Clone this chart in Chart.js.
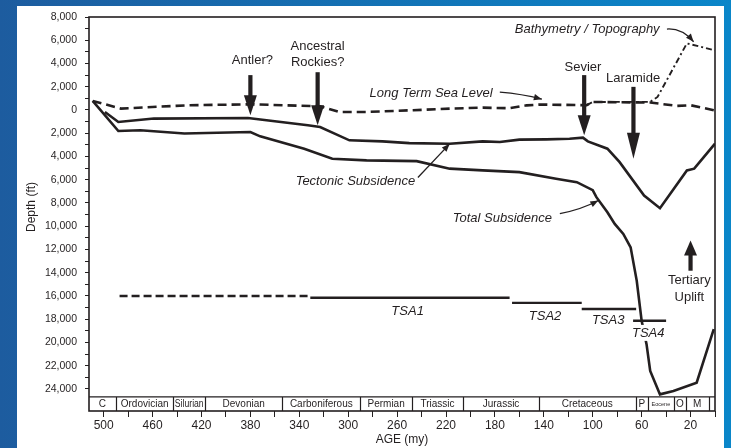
<!DOCTYPE html>
<html>
<head>
<meta charset="utf-8">
<script src="https://cdn.jsdelivr.net/npm/chart.js@4/dist/chart.umd.min.js"></script>
<style>
  html, body { margin: 0; padding: 0; background: #1a62a6; }
  canvas { display: block; }
</style>
</head>
<body>
<canvas id="chart" width="731" height="448"></canvas>
<script>
// Burial history: age in millions of years (my), depth in feet (negative = above sea level)
const seaAge   = [509, 486, 432, 380, 323, 307, 285, 247, 217, 190, 168, 154, 143, 105, 100, 53, 31, 20, 0];
const seaDepth = [-780, -120, -400, -490, -320, 170, 170, 20, -120, -200, -150, -400, -470, -410, -690, -640, -350, -410, 40];

const bathAge   = [105, 100, 53, 47, 23, 0];
const bathDepth = [-410, -690, -700, -1120, -5730, -5130];

const tecAge   = [499, 488, 459, 382, 333, 323, 299, 272, 250, 217, 190, 176, 160, 138, 119, 108, 104, 88, 78, 58, 45, 23, 17, 0];
const tecDepth = [170, 1030, 740, 690, 1320, 1470, 2610, 2700, 2850, 2900, 2700, 2760, 2550, 2530, 2470, 2380, 2700, 3330, 4490, 7360, 8450, 5200, 5050, 2900];

const totAge   = [509, 488, 470, 434, 380, 372, 336, 313, 285, 244, 217, 190, 160, 130, 113, 100, 97, 88, 82, 75, 69, 64, 60, 56, 53, 45, 34, 15, 1];
const totDepth = [-780, 1810, 1750, 2030, 1900, 2270, 3330, 4190, 4340, 4400, 5050, 5200, 5350, 5920, 6210, 6900, 7500, 8800, 9800, 10660, 11820, 14700, 18140, 20150, 22460, 24470, 24180, 23470, 18860];

// Tectono-stratigraphic assemblages (first segment is the undifferentiated dashed one)
const tsaNames = ['', 'TSA1', 'TSA2', 'TSA3', 'TSA4'];
const tsaOld   = [487, 331, 166, 109, 67];
const tsaYoung = [331, 168, 109, 64.5, 40];
const tsaDepth = [16000, 16150, 16600, 17130, 18140];

// Geologic periods
const periodNames  = ['C', 'Ordovician', 'Silurian', 'Devonian', 'Carboniferous', 'Permian', 'Triassic', 'Jurassic', 'Cretaceous', 'P', 'Eocene', 'O', 'M', ''];
const periodBounds = [512, 490, 443, 417, 354, 290, 248, 206, 144, 65, 54.8, 33.7, 23.8, 5.3, 0];

// Orogenic events (thick arrows)
const eventNames = [['Antler?'], ['Ancestral', 'Rockies?'], ['Sevier'], ['Laramide'], ['Tertiary', 'Uplift']];
const eventAge   = [380, 325, 107, 66.7, 20];
const eventTail  = [-3000, -3250, -3000, -1990, 13830];
const eventTip   = [450, 1320, 2180, 4190, 11240];

const ageMax = 512, depthTop = -8000, depthBottom = 25900, bandTop = 24690;
const ink = '#231f20';

const pts = (a, d) => a.map((v, i) => ({ x: v, y: d[i] }));
const lineDs = (data, width, dash) => ({
  data, borderColor: ink, borderWidth: width, borderDash: dash || [],
  pointRadius: 0, tension: 0, fill: false
});

const datasets = [
  lineDs(pts(seaAge, seaDepth), 2.6, [9, 5]),
  lineDs(pts(bathAge, bathDepth), 1.9, [6, 3, 2, 3]),
  lineDs(pts(tecAge, tecDepth), 2.6),
  lineDs(pts(totAge, totDepth), 2.6)
];
tsaOld.forEach((o, i) => {
  datasets.push(lineDs([{ x: o, y: tsaDepth[i] }, { x: tsaYoung[i], y: tsaDepth[i] }], 2.4, i === 0 ? [8, 4] : []));
});

function arrowHead(ctx, x1, y1, x2, y2, len, half) {
  const ang = Math.atan2(y2 - y1, x2 - x1);
  ctx.beginPath();
  ctx.moveTo(x2, y2);
  ctx.lineTo(x2 - len * Math.cos(ang) + half * Math.sin(ang), y2 - len * Math.sin(ang) - half * Math.cos(ang));
  ctx.lineTo(x2 - len * Math.cos(ang) - half * Math.sin(ang), y2 - len * Math.sin(ang) + half * Math.cos(ang));
  ctx.closePath();
  ctx.fill();
}

const decor = {
  id: 'decor',
  beforeDraw(chart) {
    const { ctx, width, height } = chart;
    const g = ctx.createLinearGradient(0, 0, width, 0);
    g.addColorStop(0, '#1d5c9f');
    g.addColorStop(1, '#0a86c9');
    ctx.save();
    ctx.fillStyle = g;
    ctx.fillRect(0, 0, width, height);
    ctx.fillStyle = '#ffffff';
    ctx.fillRect(17, 6, 707, height - 6);
    ctx.restore();
  },
  afterDatasetsDraw(chart) {
    const { ctx, chartArea: ca, scales } = chart;
    const X = v => scales.x.getPixelForValue(v);
    const Y = v => scales.y.getPixelForValue(v);
    ctx.save();
    ctx.fillStyle = ink;
    ctx.strokeStyle = ink;

    // period band
    const bt = Y(bandTop);
    ctx.fillStyle = '#ffffff';
    ctx.fillRect(ca.left, bt, ca.right - ca.left, ca.bottom - bt);
    ctx.fillStyle = ink;
    ctx.lineWidth = 1.2;
    ctx.beginPath();
    ctx.moveTo(ca.left, bt); ctx.lineTo(ca.right, bt);
    for (let i = 1; i < periodBounds.length - 1; i++) {
      const x = Math.round(X(periodBounds[i])) + 0.5;
      ctx.moveTo(x, bt); ctx.lineTo(x, ca.bottom);
    }
    ctx.stroke();
    ctx.textAlign = 'center';
    ctx.textBaseline = 'middle';
    periodNames.forEach((n, i) => {
      if (!n) return;
      const x0 = X(periodBounds[i]), x1 = X(periodBounds[i + 1]);
      ctx.font = (n === 'Eocene' ? '5.5px' : '10px') + ' "Liberation Sans", Arial, sans-serif';
      ctx.fillText(n, (x0 + x1) / 2, (bt + ca.bottom) / 2 + 0.5, Math.abs(x1 - x0) - 3);
    });

    // frame
    ctx.lineWidth = 1.6;
    ctx.strokeRect(ca.left, ca.top, ca.right - ca.left, ca.bottom - ca.top);

    // event arrows
    eventAge.forEach((a, i) => {
      const x = X(a), y1 = Y(eventTail[i]), y2 = Y(eventTip[i]);
      const dir = Math.sign(y2 - y1);
      const headLen = i === 3 ? 26 : (i === 4 ? 15 : 20);
      ctx.lineWidth = 4.2;
      ctx.beginPath();
      ctx.moveTo(x, y1); ctx.lineTo(x, y2 - dir * headLen + dir * 2);
      ctx.stroke();
      ctx.beginPath();
      ctx.moveTo(x, y2);
      ctx.lineTo(x - 6.5, y2 - dir * headLen);
      ctx.lineTo(x + 6.5, y2 - dir * headLen);
      ctx.closePath();
      ctx.fill();
    });

    // event names
    ctx.font = '13px "Liberation Sans", Arial, sans-serif';
    ctx.textAlign = 'center';
    ctx.textBaseline = 'middle';
    const nameAt = [[378.4, [-4290]], [325, [-5500, -4120]], [108, [-3690]], [67, [-2740]], [21, [14690, 16160]]];
    eventNames.forEach((lines, i) => {
      lines.forEach((t, k) => ctx.fillText(t, X(nameAt[i][0]), Y(nameAt[i][1][k])));
    });

    // curve names (italic) and pointers
    ctx.font = 'italic 13px "Liberation Sans", Arial, sans-serif';
    ctx.textAlign = 'left';
    ctx.fillText('Long Term Sea Level', X(282.5), Y(-1440));
    ctx.fillText('Bathymetry / Topography', X(163.7), Y(-6960));
    ctx.fillText('Tectonic Subsidence', X(343), Y(6150));
    ctx.fillText('Total Subsidence', X(214.5), Y(9340));

    ctx.textAlign = 'center';
    tsaNames.forEach((n, i) => {
      if (!n) return;
      const at = [[0, 0], [251.4, 17370], [139, 17800], [87.4, 18140], [54.6, 19180]][i];
      const tx = X(at[0]), ty = Y(at[1]);
      if (n === 'TSA4') {
        const w = ctx.measureText(n).width;
        ctx.fillStyle = '#ffffff';
        ctx.fillRect(tx - w / 2 - 1, ty - 8, w + 2, 16);
        ctx.fillStyle = ink;
      }
      ctx.fillText(n, tx, ty);
    });

    ctx.lineWidth = 1.3;
    const pointer = (a1, d1, a2, d2, ca1, cd1) => {
      const x1 = X(a1), y1 = Y(d1), x2 = X(a2), y2 = Y(d2);
      ctx.beginPath();
      ctx.moveTo(x1, y1);
      if (ca1 !== undefined) {
        const cx = X(ca1), cy = Y(cd1);
        ctx.quadraticCurveTo(cx, cy, x2, y2);
        ctx.stroke();
        arrowHead(ctx, cx, cy, x2, y2, 8, 3.2);
      } else {
        ctx.lineTo(x2, y2);
        ctx.stroke();
        arrowHead(ctx, x1, y1, x2, y2, 8, 3.2);
      }
    };
    pointer(176, -1530, 141.6, -925, 158, -1380);
    pointer(39.3, -6965, 17.5, -5870, 27, -7050);
    pointer(243, 5805, 217, 2914);
    pointer(126.9, 8911, 95.4, 7789, 110, 8600);

    // vertical axis title
    ctx.font = '12px "Liberation Sans", Arial, sans-serif';
    ctx.textAlign = 'center';
    ctx.translate(32, (Y(depthTop) + Y(bandTop)) / 2);
    ctx.rotate(-Math.PI / 2);
    ctx.fillText('Depth (ft)', 0, 0);
    ctx.restore();
  }
};

new Chart(document.getElementById('chart'), {
  type: 'line',
  data: { datasets },
  plugins: [decor],
  options: {
    responsive: false,
    animation: false,
    layout: { padding: { top: 17, right: 16, left: 0, bottom: 0 } },
    plugins: { legend: { display: false }, tooltip: { enabled: false } },
    scales: {
      x: {
        type: 'linear', min: 0, max: ageMax, reverse: true,
        afterBuildTicks: s => { s.ticks = []; for (let v = 0; v <= 500; v += 20) s.ticks.push({ value: v }); },
        afterFit: s => { s.height = 37; },
        ticks: {
          autoSkip: false, maxRotation: 0, padding: 1, color: ink,
          font: { family: '"Liberation Sans", Arial, sans-serif', size: 12 },
          callback: v => (v % 40 === 20 ? String(v) : '')
        },
        grid: { drawOnChartArea: false, drawTicks: true, tickLength: 6, color: ink, lineWidth: 1 },
        border: { display: false },
        title: {
          display: true, text: 'AGE (my)', color: ink, padding: { top: 0, bottom: 1 },
          font: { family: '"Liberation Sans", Arial, sans-serif', size: 12 }
        }
      },
      y: {
        type: 'linear', min: depthTop, max: depthBottom, reverse: true,
        afterBuildTicks: s => { s.ticks = []; for (let v = -8000; v <= 24000; v += 1000) s.ticks.push({ value: v }); },
        afterFit: s => { s.width = 89; },
        ticks: {
          autoSkip: false, padding: 8, color: ink,
          font: { family: '"Liberation Sans", Arial, sans-serif', size: 10.5 },
          callback: v => (v % 2000 === 0 ? Math.abs(v).toLocaleString('en-US') : '')
        },
        grid: { drawOnChartArea: false, drawTicks: true, tickLength: 4, color: ink, lineWidth: 1 },
        border: { display: false }
      }
    }
  }
});
</script>
</body>
</html>
